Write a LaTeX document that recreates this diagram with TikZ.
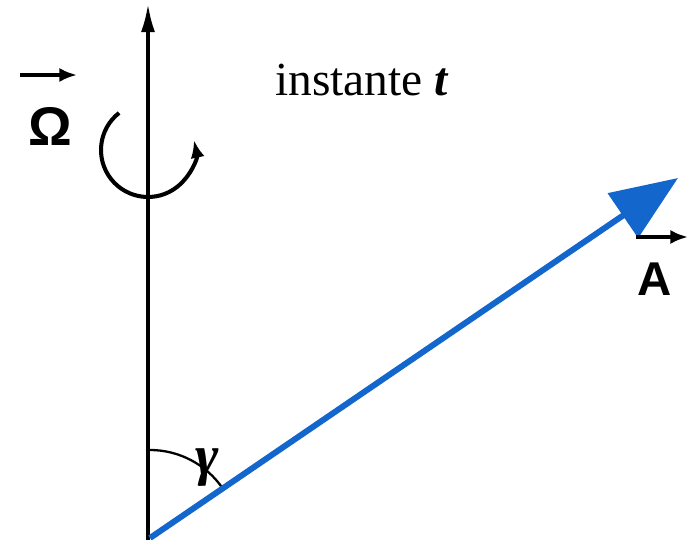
\documentclass[tikz,border=0pt]{standalone}
\usepackage{fontspec}
\setmainfont{Liberation Serif}
\newfontfamily\lblfont{Liberation Sans}
\usetikzlibrary{arrows.meta}
\definecolor{vecblue}{RGB}{18,102,204}
\tikzset{
    veclabel/.style={font=\lblfont\bfseries\fontsize{27}{30}\selectfont, inner sep=0pt},
    overarrow/.style={line width=2pt, -{Latex[length=10pt,width=8pt]}}
}
\begin{document}
\begin{tikzpicture}[x=0.02cm,y=0.02cm]
    \useasboundingbox (0,0) rectangle (692,540);
    \coordinate (O) at (150,2);
    \coordinate (axtop) at (148,536);
    \coordinate (Atip) at (678,362);
    % rotation axis
    \draw[line width=1.8pt, -{Latex[length=16pt,width=8pt]}] (148,0) -- (axtop);
    % rotation sense
    \draw[line width=2.3pt, -{Latex[length=10pt,width=8pt]}]
        ([shift={(128:47)}]148,390) arc[start angle=128, end angle=372, radius=47];
    \node[veclabel, font=\lblfont\bfseries\fontsize{31}{34}\selectfont] (omega) at (50,414) {Ω};
    \draw[overarrow] (20,465) -- (77,465);
    % angle
    \draw[line width=1.3pt] (O) ++(90:88) arc[start angle=90, end angle=34.2, radius=88];
    \node[font=\fontsize{32}{34}\selectfont\itshape\bfseries] (gam) at (207,72) {γ};
    % the vector
    \draw[vecblue, line width=3.4pt, -{Triangle[length=38pt,width=30pt]}] (O) -- (Atip);
    \node[veclabel] (Alab) at (655,261) {A};
    \draw[overarrow] (636,303) -- (688,303);
    \node[font=\fontsize{27}{30}\selectfont] (inst) at (362,460) {instante \textbf{\textit{t}}};
\end{tikzpicture}
\end{document}
